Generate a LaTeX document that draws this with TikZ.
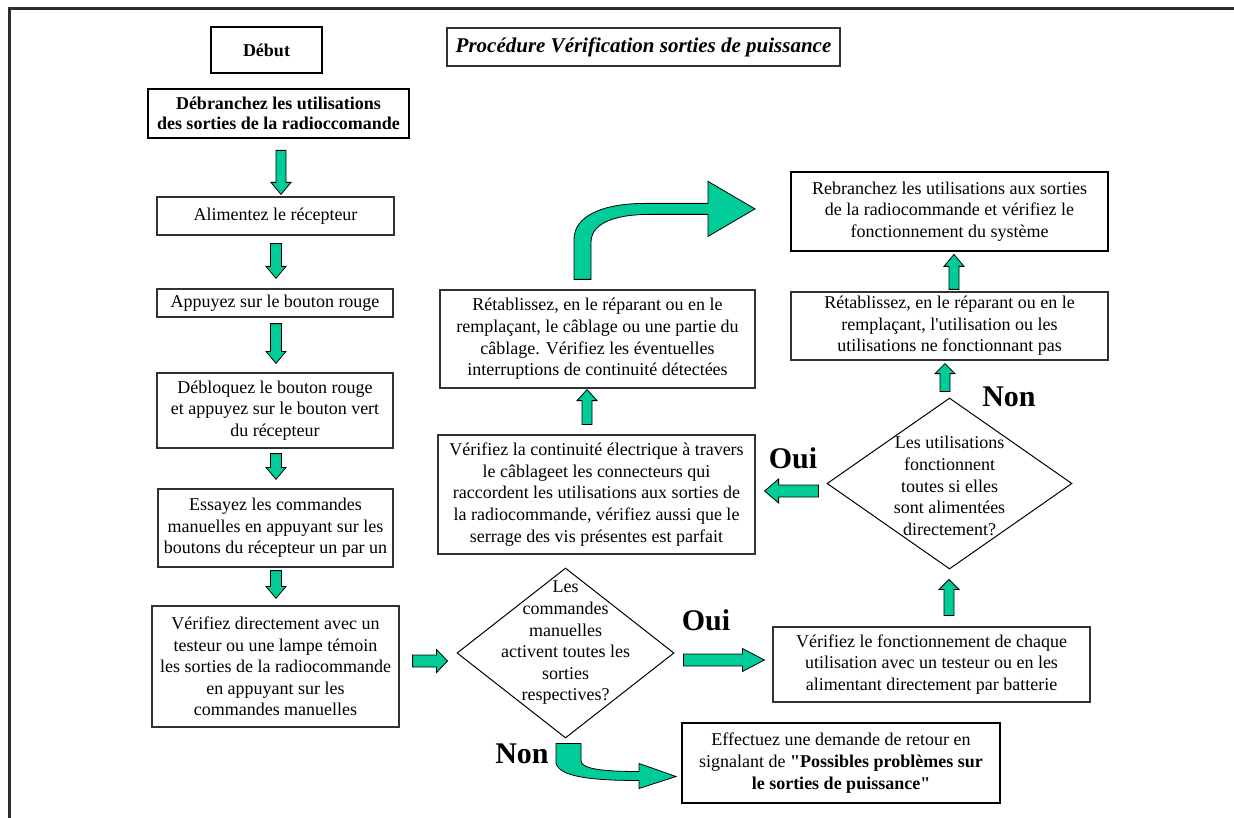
\documentclass[tikz,border=0pt]{standalone}
\usepackage{fontspec}
\setmainfont{Liberation Serif}
\usetikzlibrary{calc,shapes.geometric}
\definecolor{arrowgreen}{RGB}{0,204,153}
\definecolor{boxgray}{RGB}{50,50,50}
\definecolor{framegray}{RGB}{45,45,45}
\tikzset{
 base/.style={inner sep=0pt, align=center, font=\fontsize{18}{21.6}\selectfont},
 thinbox/.style={base, draw=boxgray, line width=1.2pt},
 thickbox/.style={base, draw=black, line width=2.8pt},
 dia/.style={diamond, draw=black, line width=1pt, inner sep=0pt},
 diatext/.style={base},
 blk/.style={draw=black, line width=0.8pt, fill=arrowgreen, line join=miter},
 lbl/.style={font=\fontsize{30}{32}\selectfont\bfseries, inner sep=0pt},
}
\newcommand\blockarrow[5]{%
 \coordinate (baA) at (#1);
 \coordinate (baB) at (#2);
 \coordinate (baC) at ($(baB)!#5!(baA)$);
 \draw[blk] ($(baA)!#3!90:(baB)$) -- ($(baC)!#3!-90:(baA)$) -- ($(baC)!#4!-90:(baA)$) -- (baB) -- ($(baC)!#4!90:(baA)$) -- ($(baC)!#3!90:(baA)$) -- ($(baA)!#3!-90:(baB)$) -- cycle;}
\begin{document}
\begin{tikzpicture}[x=1pt,y=-1pt]
\fill[white] (0,0) rectangle (1234,818);
\useasboundingbox (0,0) rectangle (1234,818);
% frame
\draw[framegray, line width=2.2pt] (9.5,818) -- (9.5,8.5) -- (1234,8.5);

% left column
\node[thickbox, minimum width=111pt, minimum height=46pt, font=\fontsize{18}{21.6}\selectfont\bfseries] (debut) at (266.5,50) {Début};
\node[thinbox, minimum width=393pt, minimum height=38pt, font=\fontsize{21}{24}\selectfont\bfseries\itshape] (title) at (643.5,47) {Procédure Vérification sorties de puissance};
\node[thickbox, minimum width=261pt, minimum height=49pt, font=\fontsize{18}{20.5}\selectfont\bfseries] (debr) at (278.5,113.5) {Débranchez les utilisations\\des sorties de la radioccomande};
\node[thinbox, minimum width=237pt, minimum height=38pt] (alim) at (275.5,216) {Alimentez le récepteur};
\node[thinbox, minimum width=236pt, minimum height=28pt] (appuy) at (275,303) {Appuyez sur le bouton rouge};
\node[thinbox, minimum width=236pt, minimum height=75pt] (debloq) at (275,410.5) {Débloquez le bouton rouge\\et appuyez sur le bouton vert\\du récepteur};
\node[thinbox, minimum width=235pt, minimum height=78pt] (essay) at (275.5,528) {Essayez les commandes\\manuelles en appuyant sur les\\boutons du récepteur un par un};
\node[thinbox, minimum width=247pt, minimum height=121pt] (verdir) at (275.5,666.5) {Vérifiez directement avec un\\testeur ou une lampe témoin\\les sorties de la radiocommande\\en appuyant sur les\\commandes manuelles};

% decision 1
\node[dia, minimum width=217pt, minimum height=170pt] (d1) at (565.5,653) {};
\node[diatext] (d1t) at (565.5,643) {Les\\commandes\\manuelles\\activent toutes les\\sorties\\respectives?};

\node[thinbox, minimum width=317pt, minimum height=75pt] (verfonc) at (931.5,664.5) {Vérifiez le fonctionnement de chaque\\utilisation avec un testeur ou en les\\alimentant directement par batterie};
\node[thickbox, minimum width=318pt, minimum height=80pt] (effect) at (841,763) {Effectuez une demande de retour en\\signalant de \textbf{\textquotedbl Possibles problèmes sur}\\\textbf{le sorties de puissance\textquotedbl}};

% decision 2
\node[dia, minimum width=245pt, minimum height=171pt] (d2) at (949.5,483.5) {};
\node[diatext] (d2t) at (949.5,486) {Les utilisations\\fonctionnent\\toutes si elles\\sont alimentées\\directement?};

\node[thinbox, minimum width=317pt, minimum height=119pt] (contin) at (596.5,494.5) {Vérifiez la continuité électrique à travers\\le câblageet les connecteurs qui\\raccordent les utilisations aux sorties de\\la radiocommande, vérifiez aussi que le\\serrage des vis présentes est parfait};
\node[thinbox, minimum width=315pt, minimum height=98pt] (retabL) at (597.5,339) {Rétablissez, en le réparant ou en le\\remplaçant, le câblage ou une partie du\\câblage. Vérifiez les éventuelles\\interruptions de continuité détectées};
\node[thinbox, minimum width=317pt, minimum height=68pt] (retabR) at (949.5,326) {Rétablissez, en le réparant ou en le\\remplaçant, l\textquotesingle utilisation ou les\\utilisations ne fonctionnant pas};
\node[thickbox, minimum width=317pt, minimum height=79pt] (rebr) at (949.5,211.5) {Rebranchez les utilisations aux sorties\\de la radiocommande et vérifiez le\\fonctionnement du système};

% labels
\node[lbl] (oui1) at (706,620) {Oui};
\node[lbl] (non1) at (522,754) {Non};
\node[lbl] (oui2) at (793,458) {Oui};
\node[lbl] (non2) at (1009,397) {Non};

% straight block arrows
\blockarrow{$(debr.south)+(2.5,11)$}{$(alim.north)+(5.5,-2)$}{5pt}{10pt}{12pt}
\blockarrow{$(alim.south)+(0.5,8)$}{$(appuy.north)+(1,-10)$}{5.5pt}{10pt}{12pt}
\blockarrow{$(appuy.south)+(1,6)$}{$(debloq.north)+(1,-9)$}{5.5pt}{10pt}{12pt}
\blockarrow{$(debloq.south)+(1,5)$}{$(essay.north)+(0.5,-9)$}{5.5pt}{10pt}{12pt}
\blockarrow{$(essay.south)+(0.5,3)$}{$(verdir.north)+(0.5,-7)$}{5.5pt}{10pt}{12pt}
\blockarrow{$(verdir.east)+(13,-5.5)$}{$(d1.west)+(-9,8)$}{6pt}{11.5pt}{11pt}
\blockarrow{$(d1.east)+(9,7)$}{$(verfonc.west)+(-8,-4.5)$}{6pt}{11.5pt}{22pt}
\blockarrow{$(verfonc.north)+(17.5,-11)$}{$(d2.south)+(-0.5,10)$}{5pt}{10pt}{10pt}
\blockarrow{$(d2.north)+(-4.5,-6)$}{$(retabR.south)+(-4.5,3)$}{5pt}{10pt}{10pt}
\blockarrow{$(retabR.north)+(4.5,-2)$}{$(rebr.south)+(4.5,2)$}{5pt}{10pt}{12pt}
\blockarrow{$(d2.west)+(-8,7.5)$}{$(contin.east)+(9,-3.5)$}{6pt}{12pt}{14pt}
\blockarrow{$(contin.north)+(-9.5,-10)$}{$(retabL.south)+(-10.5,1)$}{5pt}{10pt}{11pt}

% curved arrow up to Rebranchez
\coordinate (ca) at ($(retabL.north)+(-15,-10)$);
\draw[blk, shift={(ca)}] (-8.5,0) -- (-8.5,-40) .. controls (-8.5,-64) and (21.5,-76) .. (62.5,-76) -- (125.5,-76) -- (125.5,-98) -- (172.5,-70.5) -- (125.5,-43) -- (125.5,-65) -- (67.5,-65) .. controls (27.5,-65) and (8.5,-54) .. (8.5,-37) -- (8.5,0) -- cycle;

% curved arrow Non to Effectuez
\coordinate (cn) at ($(d1.south)+(3,5)$);
\draw[blk, shift={(cn)}] (-12.5,0) -- (-12.5,19) .. controls (-10.5,33) and (21.5,37) .. (70.5,37) -- (70.5,45) -- (107.5,33) -- (70.5,20) -- (70.5,28) .. controls (31.5,28) and (12.5,25) .. (12.5,17) -- (12.5,0) -- cycle;
\end{tikzpicture}
\end{document}
